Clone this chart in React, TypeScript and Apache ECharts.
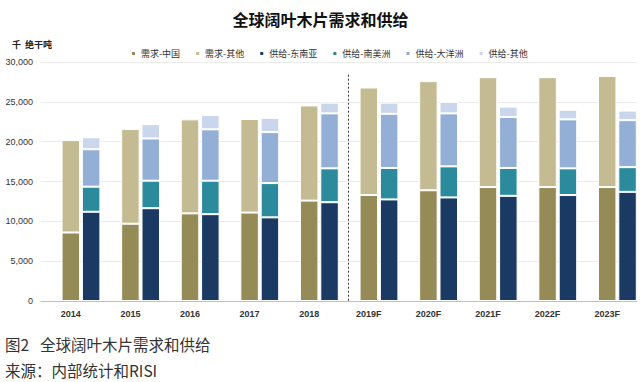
import React, { useEffect, useRef } from "react";
import * as echarts from "echarts";

const categories = ["2014", "2015", "2016", "2017", "2018", "2019F", "2020F", "2021F", "2022F", "2023F"];
const demandChina = [8600, 9700, 11000, 11100, 12600, 13300, 13900, 14300, 14300, 14300];
const demandOther = [11600, 11900, 11800, 11750, 11950, 13500, 13700, 13800, 13800, 13950];
const supplySEA = [11200, 11650, 10900, 10500, 12400, 12750, 13000, 13200, 13300, 13700];
const supplySA = [3150, 3450, 4200, 4300, 4250, 3950, 3900, 3500, 3350, 3100];
const supplyOceania = [4700, 5300, 6450, 6400, 6900, 6800, 6650, 6400, 6150, 5900];
const supplyOther = [1500, 1800, 1800, 1800, 1350, 1400, 1450, 1300, 1200, 1200];
const yTicks = [0, 5000, 10000, 15000, 20000, 25000, 30000];

const names = ["需求-中国", "需求-其他", "供给-东南亚", "供给-南美洲", "供给-大洋洲", "供给-其他"];
const colors = ["#958B57", "#C5BB93", "#1A3A64", "#2C8A9D", "#93AFD5", "#C9D6EC"];

export default function App() {
  const ref = useRef<HTMLDivElement>(null);
  useEffect(() => {
    document.body.style.margin = "0";
    const chart = echarts.init(ref.current!, null, { renderer: "svg" });
    const bw = 18.5;
    const mk = (name: string, data: number[], stack: string, color: string) => ({
      name,
      type: "bar",
      stack,
      data,
      barWidth: bw,
      barGap: "10%",
      itemStyle: { color, borderColor: "#ffffff", borderWidth: 1 },
    });
    const option: any = {
      animation: false,
      title: {
        text: "全球阔叶木片需求和供给",
        left: "center",
        top: 6,
        textStyle: { fontFamily: "Noto Sans CJK SC", fontWeight: "bold", fontSize: 16, color: "#111" },
      },
      legend: {
        data: names,
        left: 125,
        top: 44,
        icon: "rect",
        itemWidth: 5,
        itemHeight: 5,
        itemGap: 14,
        textStyle: { fontFamily: "Noto Sans CJK SC", fontSize: 9, color: "#333" },
      },
      grid: { left: 41, right: 4, top: 62, bottom: 81 },
      xAxis: {
        type: "category",
        data: categories,
        axisTick: { show: false },
        axisLine: { lineStyle: { color: "#BFBFBF", width: 1 } },
        axisLabel: {
          margin: 8,
          fontFamily: "Liberation Sans",
          fontWeight: "bold",
          fontSize: 9,
          color: "#333",
        },
      },
      yAxis: {
        type: "value",
        min: 0,
        max: 30000,
        interval: 5000,
        axisLine: { show: false },
        axisTick: { show: false },
        splitLine: { lineStyle: { color: "#EBEBEB", width: 1 } },
        axisLabel: {
          margin: 8,
          fontFamily: "Liberation Sans",
          fontSize: 9,
          color: "#333",
          formatter: (v: number) => (yTicks.includes(v) ? v.toLocaleString("en-US") : ""),
        },
      },
      series: [
        { name: "_pad", type: "bar", stack: "p", data: categories.map(() => "-"), barWidth: bw, barGap: "10%" },
        mk(names[0], demandChina, "d", colors[0]),
        mk(names[1], demandOther, "d", colors[1]),
        mk(names[2], supplySEA, "s", colors[2]),
        mk(names[3], supplySA, "s", colors[3]),
        mk(names[4], supplyOceania, "s", colors[4]),
        mk(names[5], supplyOther, "s", colors[5]),
      ],
      graphic: [
        {
          type: "text",
          left: 12,
          top: 40,
          style: { text: "千  绝干吨", font: "bold 9px 'Noto Sans CJK SC'", fill: "#222" },
        },
        {
          type: "text",
          left: 5,
          top: 336,
          style: { text: "图2", font: "15.5px 'Noto Sans CJK SC'", fill: "#333" },
        },
        {
          type: "text",
          left: 40,
          top: 336,
          style: { text: "全球阔叶木片需求和供给", font: "15.5px 'Noto Sans CJK SC'", fill: "#333" },
        },
        {
          type: "text",
          left: 5,
          top: 362,
          style: { text: "来源：内部统计和RISI", font: "15.5px 'Noto Sans CJK SC'", fill: "#333" },
        },
      ],
    };
    chart.setOption(option);
    const p18 = chart.convertToPixel({ xAxisIndex: 0 }, "2018") as number;
    const p19 = chart.convertToPixel({ xAxisIndex: 0 }, "2019F") as number;
    const y0 = chart.convertToPixel({ yAxisIndex: 0 }, 0) as number;
    const yTop = chart.convertToPixel({ yAxisIndex: 0 }, 28400) as number;
    const xd = p18 + (p19 - p18) * 0.66;
    chart.setOption({
      graphic: [
        ...option.graphic,
        {
          type: "line",
          shape: { x1: xd, y1: yTop, x2: xd, y2: y0 },
          style: { stroke: "#333", lineWidth: 1, lineDash: [2, 2] },
        },
      ],
    });
    return () => chart.dispose();
  }, []);
  return <div ref={ref} style={{ width: 641, height: 382, position: "absolute", left: 0, top: 0 }} />;
}
